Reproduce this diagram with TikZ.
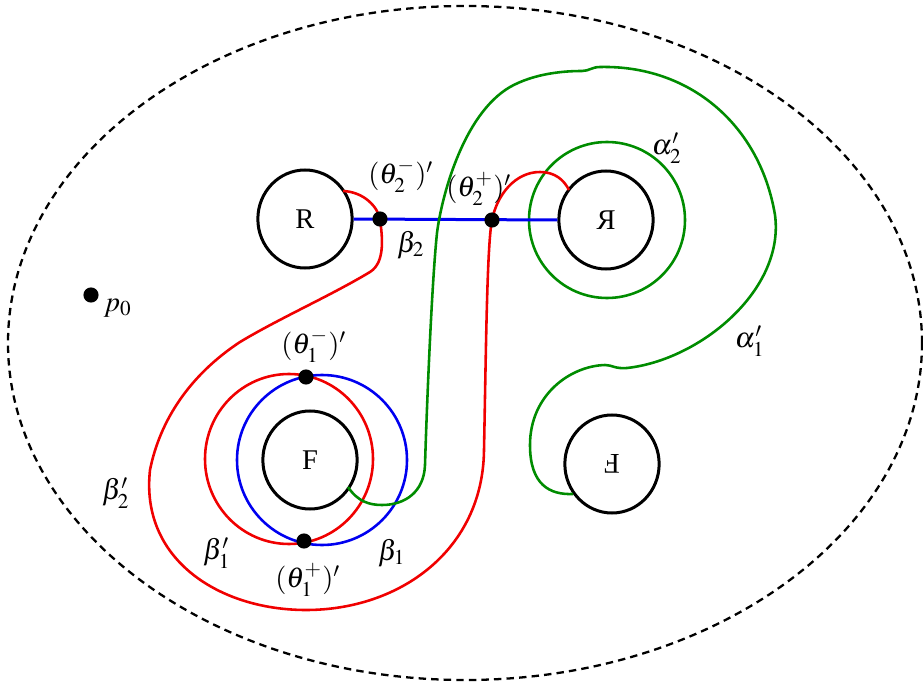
\documentclass[tikz,border=0pt]{standalone}
\usepackage{mathptmx}
\usepackage{fontspec}
\setmainfont{Liberation Serif}
\usepackage{graphicx}
\usetikzlibrary{shapes.geometric}
\definecolor{curvered}{RGB}{240,0,0}
\definecolor{curveblue}{RGB}{0,0,240}
\definecolor{curvegreen}{RGB}{0,140,0}

\begin{document}
\begin{tikzpicture}[x=0.35pt,y=-0.35pt,
    hole/.style={draw,line width=1.05pt,ellipse,minimum width=33pt,minimum height=34.3pt,inner sep=0pt},
    dot/.style={circle,fill,inner sep=0pt,minimum size=5.3pt},
    curve/.style={line width=0.9pt},
    every node/.style={font=\normalsize}]
  \useasboundingbox (0,0) rectangle (923,683);
  % outer boundary
  \draw[line width=0.8pt,dash pattern=on 2.6pt off 1.8pt] (465,343) ellipse [x radius=457,y radius=337];
  % holes
  \node[hole] (R) at (305,219) {R};
  \node[hole] (Rm) at (606,220) {\reflectbox{R}};
  \node[hole] (F) at (310,460) {F};
  \node[hole] (Fr) at (612,464) {\rotatebox[origin=c]{180}{F}};
  \coordinate (t2m) at (380,219);
  \coordinate (t2p) at (492,220);
  \coordinate (t1m) at (306,377);
  \coordinate (t1p) at (304,541);
  % rings
  \draw[curve,curvered] (289,459) ellipse [x radius=84,y radius=85];
  \draw[curve,curveblue] (322,460) ellipse [x radius=85,y radius=85];
  \draw[curve,curvegreen] (607,220) ellipse [x radius=78,y radius=78];
  % beta_2
  \draw[curveblue,line width=1.05pt] (R.east) -- (Rm.west);
  % beta_2'
  \draw[curve,curvered] (343,191) .. controls (365,192) and (378,208) .. (t2m)
    .. controls (382,235) and (386,262) .. (370,272)
    .. controls (330,296) and (280,318) .. (240,342)
    .. controls (190,375) and (160,420) .. (150,470)
    .. controls (140,560) and (220,610) .. (306,610)
    .. controls (400,610) and (483,550) .. (484,450)
    .. controls (486,350) and (487,245) .. (t2p)
    .. controls (497,195) and (515,172) .. (540,172)
    .. controls (555,172) and (564,180) .. (569,190);
  % alpha_1'
  \draw[curve,curvegreen] (348,487) .. controls (358,502) and (370,505) .. (382,505)
    .. controls (405,505) and (424,492) .. (425,465)
    .. controls (427,400) and (432,280) .. (437,233)
    .. controls (441,200) and (462,115) .. (510,87)
    .. controls (535,73) and (565,71) .. (582,71)
    .. controls (589,71) and (592,67) .. (600,67)
    .. controls (690,65) and (760,125) .. (775,215)
    .. controls (785,290) and (700,360) .. (627,368)
    .. controls (615,369) and (612,365) .. (605,365)
    .. controls (570,366) and (530,395) .. (530,445)
    .. controls (530,485) and (550,495) .. (573,494);
  % points
  \node[dot] (t2mdot) at (t2m) {};
  \node[dot] (t2pdot) at (t2p) {};
  \node[dot] (t1mdot) at (t1m) {};
  \node[dot] (t1pdot) at (t1p) {};
  \node[dot] (p0dot) at (91,295) {};
  % labels
  \node (t2mlbl) at (401,176) {$(\theta_2^-)'$};
  \node (t2plbl) at (479,189) {$(\theta_2^+)'$};
  \node (b2lbl) at (411,245) {$\beta_2$};
  \node (t1mlbl) at (314,346) {$(\theta_1^-)'$};
  \node (t1plbl) at (308,580) {$(\theta_1^+)'$};
  \node (b1plbl) at (217,553) {$\beta_1'$};
  \node (b1lbl) at (392,553) {$\beta_1$};
  \node (b2plbl) at (116,493) {$\beta_2'$};
  \node (p0lbl) at (118,308) {$p_0$};
  \node (a2lbl) at (667,148) {$\alpha_2'$};
  \node (a1lbl) at (750,341) {$\alpha_1'$};
\end{tikzpicture}
\end{document}
